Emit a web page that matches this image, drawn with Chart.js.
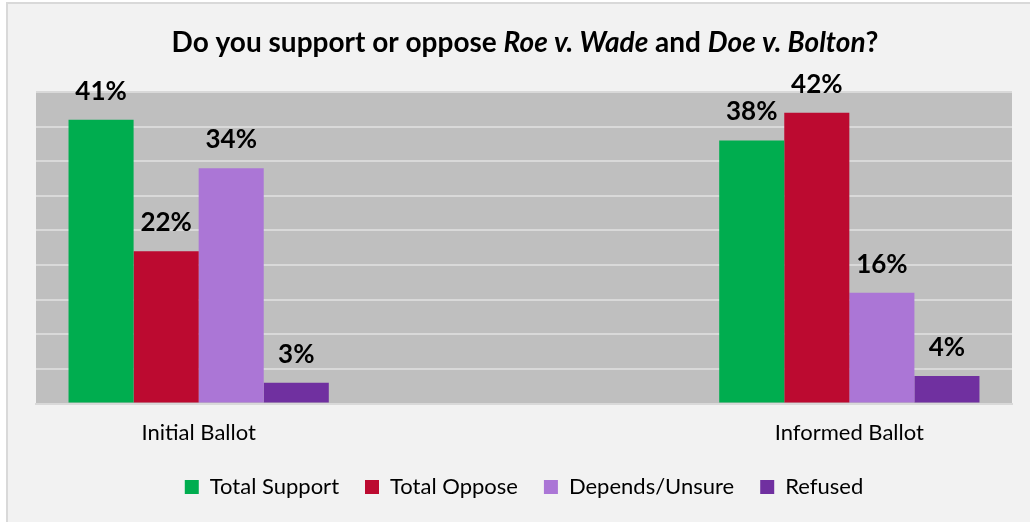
<!DOCTYPE html>
<html><head><meta charset="utf-8">
<script src="https://cdn.jsdelivr.net/npm/chart.js@4/dist/chart.umd.min.js"></script>
<style>html,body{margin:0;padding:0;background:#fff;}#wrap{width:1030px;height:522px;}</style>
</head><body><div id="wrap"><canvas id="c" width="1030" height="522"></canvas></div>
<script>
const categories = ["Initial Ballot", "", "Informed Ballot"];
const seriesNames = ["Total Support", "Total Oppose", "Depends/Unsure", "Refused"];
const totalSupport = [41, null, 38];
const totalOppose = [22, null, 42];
const dependsUnsure = [34, null, 16];
const refused = [3, null, 4];
const colors = ["#00AD4F", "#BC0A30", "#AB76D6", "#7030A0"];
const titleParts = [["Do you support or oppose ", false], ["Roe v. Wade", true], [" and ", false], ["Doe v. Bolton", true], ["?", false]];

const FONT = "Lato, 'Noto Sans', sans-serif";

const bgPlugin = {
  id: 'bg',
  beforeDraw(chart) {
    const ctx = chart.ctx;
    ctx.save();
    ctx.fillStyle = '#ffffff';
    ctx.fillRect(0, 0, chart.width, chart.height);
    ctx.fillStyle = '#f2f2f2';
    ctx.fillRect(7, 3, chart.width - 7, chart.height - 3);
    ctx.strokeStyle = '#d9d9d9';
    ctx.lineWidth = 2;
    ctx.beginPath();
    ctx.moveTo(7, chart.height); ctx.lineTo(7, 3); ctx.lineTo(chart.width, 3);
    ctx.stroke();
    const a = chart.chartArea;
    ctx.fillStyle = '#bfbfbf';
    ctx.fillRect(a.left, a.top, a.right - a.left, a.bottom - a.top);
    ctx.restore();
  }
};

const titlePlugin = {
  id: 'mixedTitle',
  afterDraw(chart) {
    const ctx = chart.ctx;
    ctx.save();
    ctx.fillStyle = '#000';
    ctx.textBaseline = 'alphabetic';
    ctx.textAlign = 'left';
    const fonts = titleParts.map(p => (p[1] ? 'italic ' : '') + 'bold 28px ' + FONT);
    let total = 0;
    const widths = titleParts.map((p, i) => { ctx.font = fonts[i]; const w = ctx.measureText(p[0]).width; total += w; return w; });
    let x = 525 - total / 2;
    titleParts.forEach((p, i) => { ctx.font = fonts[i]; ctx.fillText(p[0], x, 52); x += widths[i]; });
    ctx.restore();
  }
};

const labelPlugin = {
  id: 'valueLabels',
  afterDatasetsDraw(chart) {
    const ctx = chart.ctx;
    ctx.save();
    ctx.fillStyle = '#000';
    ctx.font = 'bold 26px ' + FONT;
    ctx.textAlign = 'center';
    ctx.textBaseline = 'alphabetic';
    chart.data.datasets.forEach((ds, di) => {
      const meta = chart.getDatasetMeta(di);
      meta.data.forEach((bar, i) => {
        const v = ds.data[i];
        if (v === null || v === undefined) return;
        ctx.fillText(v + '%', bar.x, bar.y - 20);
      });
    });
    ctx.restore();
  }
};

new Chart(document.getElementById('c'), {
  type: 'bar',
  data: {
    labels: categories,
    datasets: [
      { label: seriesNames[0], data: totalSupport, backgroundColor: colors[0] },
      { label: seriesNames[1], data: totalOppose, backgroundColor: colors[1] },
      { label: seriesNames[2], data: dependsUnsure, backgroundColor: colors[2] },
      { label: seriesNames[3], data: refused, backgroundColor: colors[3] }
    ]
  },
  options: {
    responsive: false,
    animation: false,
    devicePixelRatio: 1,
    layout: { padding: { top: 92, left: 36, right: 18, bottom: 14 } },
    datasets: { bar: { categoryPercentage: 0.8, barPercentage: 1.0, borderWidth: 0 } },
    scales: {
      x: {
        grid: { display: false, drawTicks: false },
        border: { display: true, color: '#d9d9d9', width: 2 },
        ticks: { color: '#000', font: { family: FONT, size: 22 }, padding: 16 },
        afterFit(scale) { scale.height -= 12; }
      },
      y: {
        min: 0, max: 45,
        ticks: { display: false, stepSize: 5 },
        grid: { color: '#d9d9d9', lineWidth: 2, drawTicks: false },
        border: { display: false }
      }
    },
    plugins: {
      title: { display: false },
      tooltip: { enabled: false },
      legend: {
        position: 'bottom',
        labels: { color: '#000', font: { family: FONT, size: 22 }, boxWidth: 14, boxHeight: 14, padding: 26 }
      }
    }
  },
  plugins: [bgPlugin, titlePlugin, labelPlugin]
});
</script>
</body></html>
